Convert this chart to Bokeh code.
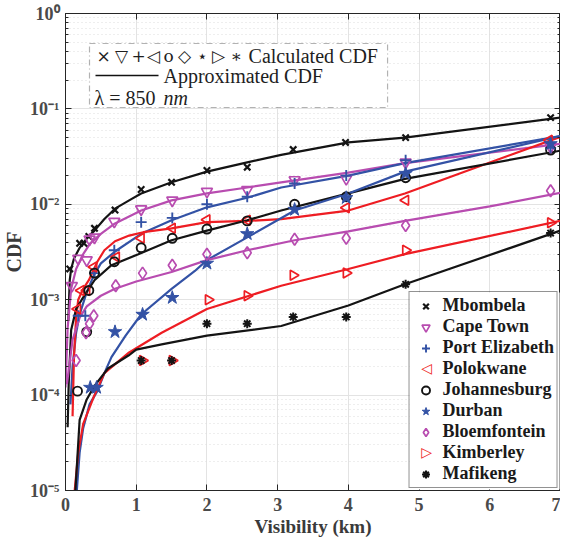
import numpy as np
from bokeh.plotting import figure
from bokeh.models import (Range1d, FixedTicker, LogAxis, LinearAxis, Legend, LegendItem,
                          BoxAnnotation, Label, ColumnDataSource)
from bokeh.embed import file_html
from bokeh.resources import INLINE

# ---------------- data ----------------
mb_x = [0.06, 0.2, 0.26, 0.33, 0.41, 0.7, 1.07, 1.5, 2.0, 2.57, 3.22, 3.96, 4.81, 6.86]
mb_y = [2.1e-3, 3.9e-3, 3.9e-3, 4.6e-3, 5.6e-3, 8.7e-3, 1.43e-2, 1.7e-2, 2.26e-2, 2.45e-2, 3.75e-2, 4.45e-2, 5.0e-2, 8.1e-2]
mb_lx = [0.04, 0.06, 0.08, 0.12, 0.2, 0.3, 0.41, 0.55, 0.7, 0.9, 1.07, 1.5, 2.0, 2.57, 3.05, 4.0, 4.8, 7.0]
mb_ly = [6e-4, 1.6e-3, 2.1e-3, 2.7e-3, 3.5e-3, 4.4e-3, 5.3e-3, 7.0e-3, 9.0e-3, 1.1e-2, 1.3e-2, 1.7e-2, 2.2e-2, 2.75e-2, 3.3e-2, 4.45e-2, 5.0e-2, 8.1e-2]

ct_x = [0.09, 0.18, 0.3, 0.34, 0.41, 0.69, 1.07, 1.51, 2.0, 2.57, 3.24, 3.97, 4.81, 6.86]
ct_y = [1.4e-3, 2.7e-3, 2.6e-3, 4.3e-3, 4.5e-3, 6.6e-3, 8.9e-3, 1.1e-2, 1.36e-2, 1.42e-2, 1.8e-2, 1.85e-2, 2.75e-2, 4.0e-2]
ct_lx = [0.0, 0.03, 0.08, 0.15, 0.25, 0.35, 0.5, 0.7, 1.07, 1.5, 2.0, 2.57, 3.05, 4.0, 4.8, 7.0]
ct_ly = [1.2e-4, 5e-4, 1.3e-3, 2.1e-3, 3.0e-3, 3.9e-3, 4.9e-3, 6.3e-3, 8.6e-3, 1.1e-2, 1.3e-2, 1.5e-2, 1.7e-2, 2.15e-2, 2.7e-2, 4.3e-2]

pe_x = [0.18, 0.28, 0.41, 0.69, 1.07, 1.51, 2.0, 2.57, 3.24, 3.97, 4.81, 6.86]
pe_y = [6.8e-4, 6.8e-4, 1.9e-3, 3.3e-3, 6.5e-3, 7.2e-3, 1.0e-2, 1.2e-2, 1.65e-2, 2.0e-2, 2.9e-2, 3.9e-2]
pe_lx = [0.07, 0.1, 0.15, 0.2, 0.3, 0.4, 0.5, 0.7, 1.07, 1.5, 2.0, 2.57, 3.05, 4.0, 4.8, 7.0]
pe_ly = [8e-5, 2e-4, 4.5e-4, 7e-4, 1.2e-3, 1.8e-3, 2.4e-3, 3.2e-3, 4.9e-3, 6.8e-3, 9.3e-3, 1.17e-2, 1.5e-2, 2.0e-2, 2.7e-2, 5.2e-2]

po_x = [0.17, 0.22, 0.3, 0.4, 0.72, 1.07, 1.51, 2.0, 2.57, 3.97, 4.81, 6.84]
po_y = [8e-4, 1.25e-3, 1.25e-3, 2.2e-3, 2.8e-3, 4.4e-3, 5.6e-3, 6.9e-3, 6.8e-3, 9.2e-3, 1.1e-2, 4.7e-2]
po_lx = [0.1, 0.12, 0.15, 0.18, 0.25, 0.33, 0.45, 0.55, 0.7, 0.9, 1.1, 1.5, 2.0, 2.57, 3.05, 4.0, 4.8, 7.0]
po_ly = [6e-5, 2.5e-4, 6.5e-4, 1.0e-3, 1.3e-3, 1.6e-3, 2.5e-3, 3.3e-3, 4.1e-3, 4.7e-3, 5.1e-3, 5.6e-3, 6.5e-3, 6.7e-3, 7.0e-3, 8.6e-3, 1.3e-2, 5.1e-2]

jo_x = [0.17, 0.3, 0.33, 0.41, 0.69, 1.07, 1.51, 2.0, 2.57, 3.24, 3.97, 4.81, 6.86]
jo_y = [1.1e-4, 4.6e-4, 1.25e-3, 1.9e-3, 2.5e-3, 3.5e-3, 4.4e-3, 5.5e-3, 6.7e-3, 1.0e-2, 1.2e-2, 1.9e-2, 3.7e-2]
jo_lx = [0.03, 0.045, 0.08, 0.15, 0.23, 0.41, 0.65, 1.03, 1.5, 2.0, 2.57, 3.05, 4.0, 4.8, 7.0]
jo_ly = [4.6e-5, 1.3e-4, 4.8e-4, 8e-4, 1.0e-3, 1.6e-3, 2.3e-3, 3.0e-3, 4.2e-3, 5.3e-3, 6.8e-3, 8.6e-3, 1.3e-2, 1.85e-2, 3.65e-2]

du_x = [0.35, 0.44, 0.7, 1.09, 1.51, 2.0, 2.57, 3.24, 3.97, 4.81, 6.86]
du_y = [1.2e-4, 1.2e-4, 4.6e-4, 7.0e-4, 1.05e-3, 2.4e-3, 4.9e-3, 8.8e-3, 1.17e-2, 2.1e-2, 4.3e-2]
du_lx = [0.16, 0.2, 0.25, 0.34, 0.45, 0.55, 0.65, 0.85, 1.07, 1.5, 1.83, 2.0, 2.57, 3.24, 4.0, 4.8, 7.0]
du_ly = [1e-5, 2.5e-5, 4.5e-5, 8e-5, 1.1e-4, 1.7e-4, 2.5e-4, 4.2e-4, 7.0e-4, 1.3e-3, 2.0e-3, 2.6e-3, 4.5e-3, 8.6e-3, 1.3e-2, 2.2e-2, 5.2e-2]

bl_x = [0.15, 0.29, 0.34, 0.4, 0.71, 1.09, 1.51, 2.0, 2.57, 3.24, 3.97, 4.81, 6.86]
bl_y = [2.3e-4, 4.5e-4, 5.6e-4, 6.8e-4, 1.4e-3, 1.9e-3, 2.3e-3, 3.0e-3, 3.1e-3, 4.3e-3, 4.4e-3, 6.0e-3, 1.39e-2]
bl_lx = [0.02, 0.1, 0.2, 0.3, 0.5, 0.7, 1.0, 1.5, 2.0, 2.57, 3.24, 4.0, 4.8, 6.0, 7.0]
bl_ly = [1.3e-4, 3.8e-4, 6.5e-4, 8.5e-4, 1.1e-3, 1.3e-3, 1.55e-3, 1.95e-3, 2.6e-3, 3.3e-3, 4.2e-3, 5.2e-3, 6.7e-3, 9.5e-3, 1.32e-2]

ki_x = [1.09, 1.51, 2.02, 2.57, 3.22, 3.97, 4.81, 6.86]
ki_y = [2.3e-4, 2.3e-4, 1.0e-3, 1.1e-3, 1.8e-3, 1.9e-3, 3.3e-3, 6.4e-3]
ki_lx = [0.13, 0.18, 0.25, 0.4, 0.55, 0.9, 1.36, 2.0, 3.05, 4.0, 4.8, 7.0]
ki_ly = [1e-5, 2.5e-5, 5e-5, 9.6e-5, 1.7e-4, 2.8e-4, 4.5e-4, 8e-4, 1.4e-3, 2.1e-3, 3.0e-3, 6.7e-3]

ma_x = [1.07, 1.5, 2.0, 2.57, 3.22, 3.97, 4.81, 6.86]
ma_y = [2.3e-4, 2.3e-4, 5.6e-4, 5.6e-4, 6.6e-4, 6.6e-4, 1.45e-3, 5.0e-3]
ma_lx = [0.14, 0.2, 0.3, 0.41, 0.6, 0.89, 1.0, 1.36, 2.0, 3.05, 4.0, 4.8, 7.0]
ma_ly = [1e-5, 5.5e-5, 9e-5, 1.25e-4, 1.9e-4, 2.6e-4, 3.0e-4, 3.4e-4, 4.2e-4, 5.3e-4, 8.7e-4, 1.45e-3, 5.3e-3]

cities = ["Mbombela", "Cape Town", "Port Elizabeth", "Polokwane", "Johannesburg",
          "Durban", "Bloemfontein", "Kimberley", "Mafikeng"]

y_major = [1e-5, 1e-4, 1e-3, 1e-2, 1e-1, 1.0]
y_labels = ["10\u207b\u2075", "10\u207b\u2074", "10\u207b\u00b3", "10\u207b\u00b2", "10\u207b\u00b9", "10\u2070"]
x_major = [0, 1, 2, 3, 4, 5, 6, 7]

# ---------------- styling ----------------
BLACK = "#141414"
MAG = "#b84cb0"
BLUE = "#3352a5"
RED = "#ee1d23"
SERIF = "Liberation Serif"

styles = [
    dict(marker="x", size=9, color=BLACK, line_width=2.2, fill=False, angle=0.0, key=None),
    dict(marker="inverted_triangle", size=11, color=MAG, line_width=1.7, fill=False, angle=0.0, key=None),
    dict(marker="cross", size=11, color=BLUE, line_width=1.9, fill=False, angle=0.0, key=None),
    dict(marker="triangle", size=10, color=RED, line_width=1.7, fill=False, angle=1.5707963, key="\u25c1"),
    dict(marker="circle", size=9, color=BLACK, line_width=1.9, fill=False, angle=0.0, key=None),
    dict(marker="star", size=14, color=BLUE, line_width=1.0, fill=True, angle=0.0, key=None),
    dict(marker="diamond", size=12, color=MAG, line_width=1.7, fill=False, angle=0.0, key=None),
    dict(marker="triangle", size=10, color=RED, line_width=1.7, fill=False, angle=-1.5707963, key="\u25b7"),
    dict(marker="asterisk", size=9, color=BLACK, line_width=2.0, fill=False, angle=0.0, key=None),
]

pts = [(mb_x, mb_y), (ct_x, ct_y), (pe_x, pe_y), (po_x, po_y), (jo_x, jo_y),
       (du_x, du_y), (bl_x, bl_y), (ki_x, ki_y), (ma_x, ma_y)]
lines = [(mb_lx, mb_ly), (ct_lx, ct_ly), (pe_lx, pe_ly), (po_lx, po_ly), (jo_lx, jo_ly),
         (du_lx, du_ly), (bl_lx, bl_ly), (ki_lx, ki_ly), (ma_lx, ma_ly)]

p = figure(frame_width=495, frame_height=477,
           x_range=Range1d(0, 7), y_range=Range1d(1e-5, 1), y_axis_type="log",
           output_backend="svg", toolbar_location=None,
           min_border_left=10, min_border_right=0, min_border_top=13, min_border_bottom=10)
p.background_fill_color = "white"
p.border_fill_color = "white"
p.outline_line_color = "#262626"
p.outline_line_width = 1

yt = FixedTicker(ticks=y_major,
                 minor_ticks=[m * 10.0 ** e for e in range(-5, 0) for m in range(2, 10)])
xt = FixedTicker(ticks=x_major, minor_ticks=[])

p.yaxis.ticker = yt
p.xaxis.ticker = xt
p.ygrid.ticker = yt
p.xgrid.ticker = xt

p.xgrid.grid_line_color = "#e3e3e3"
p.ygrid.grid_line_color = "#e3e3e3"
p.ygrid.minor_grid_line_color = "#dcdcdc"
p.ygrid.minor_grid_line_dash = "1 3"

p.yaxis.major_label_overrides = {v: s for v, s in zip(y_major, y_labels)}

for ax in (p.xaxis[0], p.yaxis[0]):
    ax.major_tick_in = 6
    ax.major_tick_out = 0
    ax.minor_tick_in = 3
    ax.minor_tick_out = 0
    ax.axis_line_color = "#262626"
    ax.major_tick_line_color = "#262626"
    ax.minor_tick_line_color = "#262626"
    ax.major_label_text_font = SERIF
    ax.major_label_text_font_style = "bold"
    ax.major_label_text_font_size = "18px"
    ax.major_label_text_color = "#4a4a4a"
    ax.axis_label_text_font = SERIF
    ax.axis_label_text_font_style = "bold"
    ax.axis_label_text_color = "#3a3a3a"

p.xaxis.axis_label = "Visibility (km)"
p.xaxis.axis_label_text_font_size = "19px"
p.xaxis.major_label_standoff = 7
p.xaxis.axis_label_standoff = 2
p.yaxis.axis_label = "CDF"
p.yaxis.axis_label_text_font_size = "20px"
p.yaxis.major_label_standoff = 6
p.yaxis.axis_label_standoff = 2

# mirrored axes (ticks only) on right and top
ra = LogAxis(ticker=yt, major_tick_in=6, major_tick_out=0, minor_tick_in=3, minor_tick_out=0,
             major_label_text_font_size="1px", major_label_text_alpha=0.0,
             major_label_standoff=0,
             axis_line_color="#262626", major_tick_line_color="#262626",
             minor_tick_line_color="#262626")
ta = LinearAxis(ticker=xt, major_tick_in=6, major_tick_out=0, minor_tick_in=0, minor_tick_out=0,
                major_label_text_font_size="1px", major_label_text_alpha=0.0,
                major_label_standoff=0,
                axis_line_color="#262626", major_tick_line_color="#262626")
p.add_layout(ra, "right")
p.add_layout(ta, "above")

# approximated CDF lines
for (lx, ly), st in zip(lines, styles):
    p.line(lx, ly, line_color=st["color"], line_width=2.2)


def px2x(px):
    return (px - 64) / 70.7


def py2y(py):
    return 10 ** (-(py - 13) / 95.4)


# calculated CDF markers
items = []
for name, (x, y), st in zip(cities, pts, styles):
    src = ColumnDataSource(dict(x=x, y=y, a=[st["angle"]] * len(x)))
    r = p.scatter("x", "y", source=src, marker=st["marker"], size=st["size"], angle="a",
                  angle_units="rad",
                  line_color=st["color"], line_width=st["line_width"],
                  fill_color=st["color"] if st["fill"] else None)
    if st["key"] is not None:
        # the legend cannot rotate markers: invisible key here, a text key is drawn below it
        dummy = p.scatter(x=[], y=[], marker=st["marker"], size=st["size"],
                          line_alpha=0.0, fill_alpha=0.0)
        items.append(LegendItem(label=name, renderers=[dummy]))
    else:
        items.append(LegendItem(label=name, renderers=[r], index=0))

# white panel behind the (transparent) legend, then the rotated keys, then the legend
legend_bg = BoxAnnotation(left=px2x(408), right=px2x(558), top=py2y(292), bottom=py2y(489),
                          fill_color="white", fill_alpha=1.0, line_alpha=0.0)
p.add_layout(legend_bg)

for i, st in enumerate(styles):
    if st["key"] is not None:
        p.add_layout(Label(x=px2x(425), y=py2y(304 + 21 * i), text=st["key"],
                           text_align="center", text_baseline="middle",
                           text_font="DejaVu Sans", text_font_style="bold",
                           text_font_size="14px", text_color=st["color"]))

legend = Legend(items=items, location="bottom_right", margin=2, padding=3, spacing=0,
                glyph_width=26, glyph_height=20, label_height=20, label_standoff=4,
                label_text_font=SERIF, label_text_font_style="bold",
                label_text_font_size="18px", label_text_color="#1a1a1a",
                border_line_color="#262626", border_line_width=1,
                background_fill_color="white", background_fill_alpha=0.0)
p.add_layout(legend)

# annotation box (top left)
box = BoxAnnotation(left=px2x(88), right=px2x(386), top=py2y(43), bottom=py2y(107),
                    fill_color="white", fill_alpha=1.0, line_color="#000000",
                    line_width=1.2, line_dash="6 3 1 3")
p.add_layout(box)

TXT = "#1e1e1e"
sym_text = ["\u00d7", "\u25bd", "+", "\u25c1", "o", "\u25c7", "\u22c6", "\u25b7", "\u2217"]
sym_px = [102, 120, 137, 152, 167, 183, 201, 217, 235]
for s, sx in zip(sym_text, sym_px):
    p.add_layout(Label(x=px2x(sx), y=py2y(55), text=s, text_align="center",
                       text_baseline="middle", text_font="DejaVu Serif", text_font_size="17px",
                       text_color=TXT))
p.add_layout(Label(x=px2x(247), y=py2y(55), text="Calculated CDF", text_baseline="middle",
                   text_font=SERIF, text_font_size="20px", text_color=TXT))
p.segment(x0=[px2x(94)], y0=[py2y(75)], x1=[px2x(157)], y1=[py2y(75)],
          line_color="#111111", line_width=1.3, level="overlay")
p.add_layout(Label(x=px2x(162), y=py2y(75), text="Approximated CDF", text_baseline="middle",
                   text_font=SERIF, text_font_size="20px", text_color=TXT))
p.add_layout(Label(x=px2x(93), y=py2y(97), text="\u03bb = 850", text_baseline="middle",
                   text_font=SERIF, text_font_size="20px", text_color=TXT))
p.add_layout(Label(x=px2x(162), y=py2y(97), text="nm", text_baseline="middle",
                   text_font=SERIF, text_font_style="italic", text_font_size="20px",
                   text_color=TXT))

open("out.html", "w").write(file_html(p, INLINE))
